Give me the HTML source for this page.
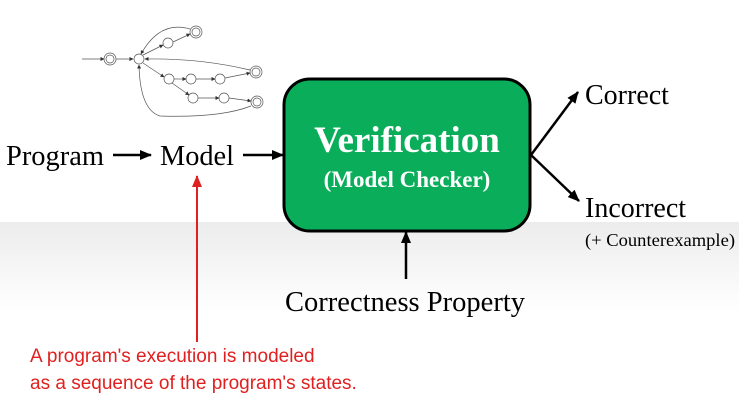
<!DOCTYPE html>
<html><head><style>
html,body{margin:0;padding:0;}
body{width:739px;height:404px;overflow:hidden;background:#fff;}
</style></head><body>
<svg width="739" height="404" viewBox="0 0 739 404" xmlns="http://www.w3.org/2000/svg">
<defs>
<linearGradient id="bg" x1="0" y1="0" x2="0" y2="1">
<stop offset="0" stop-color="#ececec"/><stop offset="1" stop-color="#ffffff"/>
</linearGradient>
<marker id="ahs" markerWidth="12" markerHeight="12" refX="11" refY="6" orient="auto" markerUnits="userSpaceOnUse"><path d="M0,1 L12,6 L0,11 z" fill="#000"/></marker>
<marker id="ahr" markerWidth="12" markerHeight="12" refX="11" refY="6" orient="auto" markerUnits="userSpaceOnUse"><path d="M0,1 L12,6 L0,11 z" fill="#e02020"/></marker>
<marker id="sm" markerWidth="4" markerHeight="4" refX="3.5" refY="2" orient="auto" markerUnits="userSpaceOnUse"><path d="M0,0 L4,2 L0,4 z" fill="#333"/></marker>
</defs>
<rect x="0" y="222" width="739" height="90" fill="url(#bg)"/>
<g stroke="#555" stroke-width="0.7" fill="none">
<line x1="82" y1="59" x2="104" y2="59" marker-end="url(#sm)"/>
<circle cx="110" cy="59" r="6"/><circle cx="110" cy="59" r="4"/>
<line x1="116" y1="59" x2="133" y2="59" marker-end="url(#sm)"/>
<circle cx="139" cy="59" r="5"/>
<circle cx="168" cy="43" r="5"/>
<circle cx="196" cy="32" r="6"/><circle cx="196" cy="32" r="4"/>
<circle cx="169" cy="79" r="5"/>
<circle cx="191" cy="79" r="5"/>
<circle cx="220" cy="79" r="5"/>
<circle cx="256" cy="72" r="6"/><circle cx="256" cy="72" r="4"/>
<circle cx="193" cy="98" r="5"/>
<circle cx="224" cy="98" r="5"/>
<circle cx="257" cy="102" r="6"/><circle cx="257" cy="102" r="4"/>
<path d="M143,55 L163,45" marker-end="url(#sm)"/>
<path d="M173,42 L190,34" marker-end="url(#sm)"/>
<path d="M190,29 Q160,20 141,54" marker-end="url(#sm)"/>
<path d="M250,70 Q200,58 145,59" marker-end="url(#sm)"/>
<path d="M143,63 L164,77" marker-end="url(#sm)"/>
<path d="M174,79 L186,79" marker-end="url(#sm)"/>
<path d="M196,79 L215,79" marker-end="url(#sm)"/>
<path d="M225,78 L250,73" marker-end="url(#sm)"/>
<path d="M172,83 L189,95" marker-end="url(#sm)"/>
<path d="M198,98 L219,98" marker-end="url(#sm)"/>
<path d="M229,98 L251,101" marker-end="url(#sm)"/>
<path d="M251,106 Q220,118 160,116 Q140,110 139,65" marker-end="url(#sm)"/>
</g>
<rect x="284" y="79" width="246" height="152" rx="26" fill="#0aae5a" stroke="#000" stroke-width="3"/>
<g font-family="Liberation Serif, serif" fill="#000">
<text x="6" y="165" font-size="28" textLength="98" lengthAdjust="spacingAndGlyphs">Program</text>
<text x="160" y="165" font-size="28" textLength="74" lengthAdjust="spacingAndGlyphs">Model</text>
<text x="407" y="152" font-size="37" font-weight="bold" fill="#fff" text-anchor="middle">Verification</text>
<text x="407" y="187" font-size="23" font-weight="bold" fill="#fff" text-anchor="middle">(Model Checker)</text>
<text x="585" y="104" font-size="28">Correct</text>
<text x="585" y="217" font-size="28">Incorrect</text>
<text x="585" y="246" font-size="18" textLength="150" lengthAdjust="spacingAndGlyphs">(+ Counterexample)</text>
<text x="285" y="311" font-size="28" textLength="240" lengthAdjust="spacingAndGlyphs">Correctness Property</text>
</g>
<g stroke="#000" stroke-width="2.5" fill="none">
<line x1="113" y1="155" x2="151" y2="155" marker-end="url(#ahs)"/>
<line x1="243" y1="155" x2="283" y2="155" marker-end="url(#ahs)"/>
<line x1="531" y1="155" x2="578" y2="92" marker-end="url(#ahs)"/>
<line x1="531" y1="155" x2="579" y2="201" marker-end="url(#ahs)"/>
<line x1="406" y1="279" x2="406" y2="232" marker-end="url(#ahs)"/>
</g>
<line x1="197" y1="342" x2="197" y2="176" stroke="#e02020" stroke-width="2" marker-end="url(#ahr)"/>
<g font-family="Liberation Sans, sans-serif" font-size="19" fill="#e02020">
<text x="30" y="362">A program's execution is modeled</text>
<text x="30" y="389">as a sequence of the program's states.</text>
</g>
</svg>
</body></html>
